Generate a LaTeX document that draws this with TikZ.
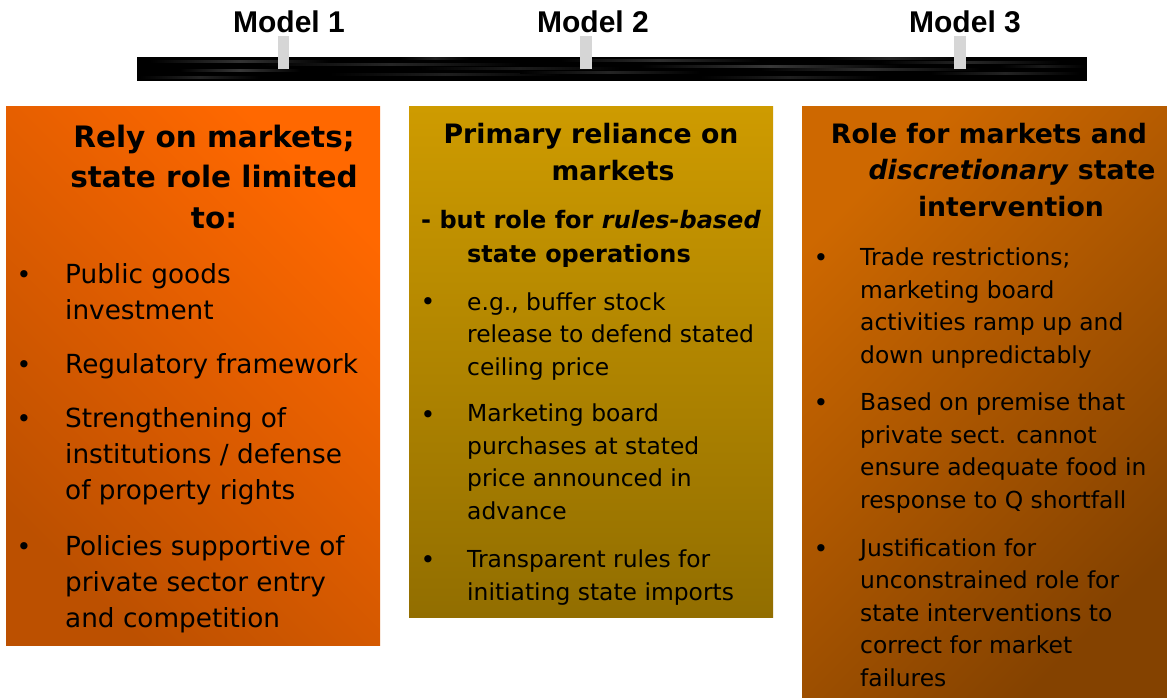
\documentclass[tikz,border=0pt]{standalone}
\usepackage{fontspec}
\setmainfont{DejaVu Sans}
\newfontfamily\labelfont{Liberation Sans}
\definecolor{oneTR}{RGB}{255,104,0}
\definecolor{oneBL}{RGB}{188,80,0}
\definecolor{twoT}{RGB}{206,155,0}
\definecolor{twoB}{RGB}{146,110,0}
\definecolor{threeTL}{RGB}{206,104,0}
\definecolor{threeBR}{RGB}{132,66,0}
\definecolor{tickgray}{RGB}{214,214,214}
\begin{document}
\begin{tikzpicture}[x=1pt,y=-1pt,
  modellabel/.style={font=\labelfont\bfseries\fontsize{30}{34}\selectfont, anchor=base, inner sep=0},
  tickmark/.style={fill=tickgray, draw=none},
  headbig/.style={font=\bfseries\fontsize{29.5}{40.5}\selectfont, align=center, anchor=base, inner sep=0},
  headmid/.style={font=\bfseries\fontsize{26.7}{36.5}\selectfont, align=center, anchor=base, inner sep=0},
  subhead/.style={font=\bfseries\fontsize{24}{34}\selectfont, align=left, anchor=base west, inner sep=0},
  itembig/.style={font=\fontsize{26.3}{36}\selectfont, align=left, anchor=base west, inner sep=0},
  itemsmall/.style={font=\fontsize{23.4}{32.4}\selectfont, align=left, anchor=base west, inner sep=0},
  bul/.style={font=\fontsize{25}{26}\selectfont, anchor=base, inner sep=0}
]
\useasboundingbox (0,0) rectangle (1167,698);
\fill[white] (0,0) rectangle (1167,698);

% timeline bar with brushed streaks
\fill[black] (137,57) rectangle (1087,81);
\foreach \xa/\xb/\yy/\g in {
  150/330/61/20, 260/520/64/15, 180/300/70/22, 330/560/74/12, 140/260/77/14,
  560/760/60/18, 640/900/66/22, 520/700/72/14, 760/980/69/18, 700/880/77/12,
  880/1060/62/15, 930/1080/73/14, 400/470/58/12, 820/960/58/14, 1000/1085/66/10,
  420/620/68/11}
  \shade[left color=black, right color=black, middle color=white!\g!black]
    (\xa,\yy) rectangle (\xb,\yy+1.3);

% tick marks on the bar
\fill[tickmark] (278,36) rectangle (289,69);
\fill[tickmark] (580,36) rectangle (592,69);
\fill[tickmark] (954,36) rectangle (966,69);

\node[modellabel] (m1) at (289,33) {Model 1};
\node[modellabel] (m2) at (593,33) {Model 2};
\node[modellabel] (m3) at (965,33) {Model 3};

% panels
\shade[shading=axis, top color=oneTR, bottom color=oneBL, shading angle=-45]
  (6,107) rectangle (380,645);
\shade[shading=axis, top color=twoT, bottom color=twoB]
  (409,107) rectangle (773,617);
\shade[shading=axis, top color=threeTL, bottom color=threeBR, shading angle=45]
  (802,107) rectangle (1167,698);

% panel 1 (multi-line nodes sit on the baseline of their last line)
\node[headbig] (h1) at (214,228) {Rely on markets;\\state role limited\\to:};
\node[bul] (b11) at (24,283) {•};
\node[itembig] (t11) at (65,319) {Public goods\\investment};
\node[bul] (b12) at (24,373) {•};
\node[itembig] (t12) at (65,373) {Regulatory framework};
\node[bul] (b13) at (24,427) {•};
\node[itembig] (t13) at (65,499) {Strengthening of\\institutions / defense\\of property rights};
\node[bul] (b14) at (24,555) {•};
\node[itembig] (t14) at (65,627) {Policies supportive of\\private sector entry\\and competition};

% panel 2
\node[headmid] (h2) at (591,180) {Primary reliance on\\\hspace*{44pt}markets};
\node[subhead] (s2) at (421,262) {- but role for \textit{rules-based}\\\hspace*{46pt}state operations};
\node[bul] (b21) at (428,310) {•};
\node[itemsmall] (t21) at (467,375) {e.g., buffer stock\\release to defend stated\\ceiling price};
\node[bul] (b22) at (428,423) {•};
\node[itemsmall] (t22) at (467,519) {Marketing board\\purchases at stated\\price announced in\\advance};
\node[bul] (b23) at (428,568) {•};
\node[itemsmall] (t23) at (467,600) {Transparent rules for\\initiating state imports};

% panel 3
\node[headmid] (h3) at (989,216) {Role for markets and\\\hspace*{46pt}\textit{discretionary} state\\\hspace*{44pt}intervention};
\node[bul] (b31) at (821,266) {•};
\node[itemsmall] (t31) at (860,363) {Trade restrictions;\\marketing board\\activities ramp up and\\down unpredictably};
\node[bul] (b32) at (821,411) {•};
\node[itemsmall] (t32) at (860,508) {Based on premise that\\private sect. cannot\\ensure adequate food in\\response to Q shortfall};
\node[bul] (b33) at (821,557) {•};
\node[itemsmall] (t33) at (860,686) {Justification for\\unconstrained role for\\state interventions to\\correct for market\\failures};
\end{tikzpicture}
\end{document}
